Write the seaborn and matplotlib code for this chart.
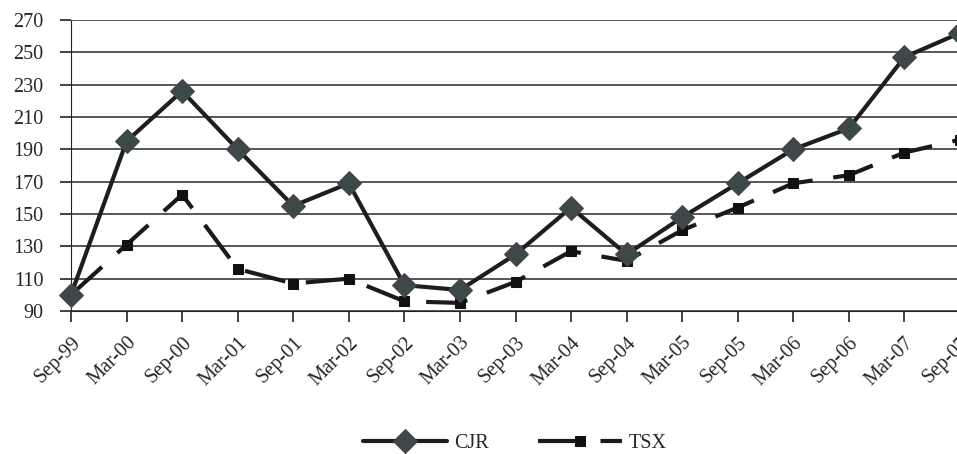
import pandas as pd
import seaborn as sns
import matplotlib.pyplot as plt

periods = ["Sep-99", "Mar-00", "Sep-00", "Mar-01", "Sep-01", "Mar-02", "Sep-02", "Mar-03",
           "Sep-03", "Mar-04", "Sep-04", "Mar-05", "Sep-05", "Mar-06", "Sep-06", "Mar-07", "Sep-07"]
cjr = [100, 195, 226, 190, 155, 169, 106, 103, 125, 154, 125, 148, 169, 190, 203, 247, 262]
tsx = [100, 131, 162, 116, 107, 110, 96, 95, 108, 127, 121, 140, 154, 169, 174, 188, 196]

df = pd.DataFrame({"pos": range(len(periods)), "period": periods, "CJR": cjr, "TSX": tsx})

sns.set_style("white")
plt.rcParams["font.family"] = ["Liberation Serif", "DejaVu Serif"]
plt.rcParams["font.size"] = 14.5

fig = plt.figure(figsize=(9.57, 4.54), dpi=100)
ax = fig.add_axes([71 / 957, 1 - 311 / 454, (960 - 71) / 957, (311 - 20) / 454])

sns.lineplot(data=df, x="pos", y="CJR", ax=ax, color="#1e1e1e", lw=3, marker="D",
             markersize=12, markerfacecolor="#3f4848", markeredgecolor="#3f4848",
             label="CJR", clip_on=False, zorder=3)
sns.lineplot(data=df, x="pos", y="TSX", ax=ax, color="#1a1a1a", lw=3, marker="s",
             markersize=7.5, markerfacecolor="#111111", markeredgecolor="#111111",
             dashes=(10, 5), label="TSX", clip_on=False, zorder=2)

ax.set_xlim(0, 16)
ax.set_ylim(90, 270)
ax.set_yticks(range(90, 271, 20))
ax.set_xticks(range(len(periods)))
ax.set_xticklabels(periods, rotation=45, ha="right", rotation_mode="anchor")
ax.set_xlabel("")
ax.set_ylabel("")
ax.grid(axis="y", color="#3a3a3a", lw=1.2)
ax.grid(axis="x", visible=False)
for s in ["top", "right"]:
    ax.spines[s].set_visible(False)
ax.spines["left"].set_color("#222222")
ax.spines["bottom"].set_color("#222222")
ax.tick_params(axis="both", direction="out", length=8, width=1.2, color="#222222",
               labelsize=14.5, left=True, bottom=True)
ax.tick_params(axis="y", pad=12)
ax.tick_params(axis="x", pad=8)

ax.legend(loc="center", bbox_to_anchor=(515 / 957, 1 - 443 / 454), bbox_transform=fig.transFigure,
          ncol=2, frameon=False, handlelength=4.2, columnspacing=2.4, handletextpad=0.35,
          fontsize=14.5)

fig.savefig("out.png", dpi=100)
